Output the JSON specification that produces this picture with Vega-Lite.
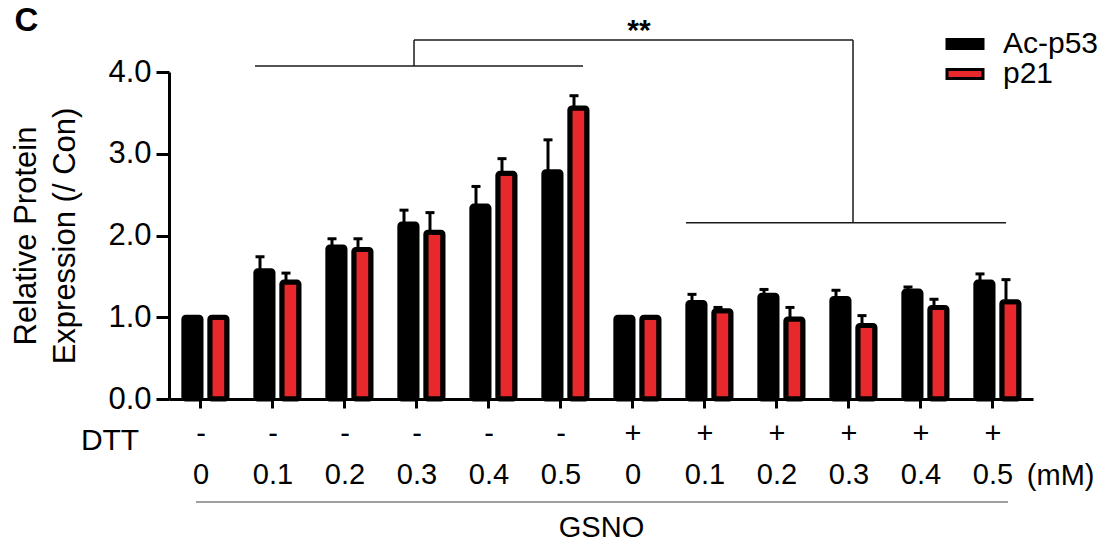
{
  "$schema": "https://vega.github.io/schema/vega-lite/v6.json",
  "width": 864,
  "height": 327,
  "autosize": "none",
  "padding": {"left": 169, "top": 72, "right": 73, "bottom": 145},
  "background": "white",
  "config": {
    "view": {"stroke": null},
    "font": "Liberation Sans",
    "axis": {"grid": false, "domainColor": "black", "tickColor": "black", "labelColor": "black", "titleColor": "black"}
  },
  "datasets": {
    "bars": [
      {"cond": "- 0", "series": "Ac-p53", "value": 1.0, "err": null},
      {"cond": "- 0", "series": "p21", "value": 1.0, "err": null},
      {"cond": "- 0.1", "series": "Ac-p53", "value": 1.57, "err": 1.74},
      {"cond": "- 0.1", "series": "p21", "value": 1.43, "err": 1.54},
      {"cond": "- 0.2", "series": "Ac-p53", "value": 1.86, "err": 1.96},
      {"cond": "- 0.2", "series": "p21", "value": 1.83, "err": 1.96},
      {"cond": "- 0.3", "series": "Ac-p53", "value": 2.14, "err": 2.31},
      {"cond": "- 0.3", "series": "p21", "value": 2.04, "err": 2.28},
      {"cond": "- 0.4", "series": "Ac-p53", "value": 2.36, "err": 2.6},
      {"cond": "- 0.4", "series": "p21", "value": 2.76, "err": 2.94},
      {"cond": "- 0.5", "series": "Ac-p53", "value": 2.78, "err": 3.17},
      {"cond": "- 0.5", "series": "p21", "value": 3.56, "err": 3.71},
      {"cond": "+ 0", "series": "Ac-p53", "value": 1.0, "err": null},
      {"cond": "+ 0", "series": "p21", "value": 1.0, "err": null},
      {"cond": "+ 0.1", "series": "Ac-p53", "value": 1.18, "err": 1.28},
      {"cond": "+ 0.1", "series": "p21", "value": 1.08, "err": 1.12},
      {"cond": "+ 0.2", "series": "Ac-p53", "value": 1.27, "err": 1.34},
      {"cond": "+ 0.2", "series": "p21", "value": 0.98, "err": 1.12},
      {"cond": "+ 0.3", "series": "Ac-p53", "value": 1.23, "err": 1.33},
      {"cond": "+ 0.3", "series": "p21", "value": 0.9, "err": 1.02},
      {"cond": "+ 0.4", "series": "Ac-p53", "value": 1.32, "err": 1.37},
      {"cond": "+ 0.4", "series": "p21", "value": 1.12, "err": 1.22},
      {"cond": "+ 0.5", "series": "Ac-p53", "value": 1.43, "err": 1.53},
      {"cond": "+ 0.5", "series": "p21", "value": 1.19, "err": 1.46}
    ]
  },
  "layer": [
    {
      "data": {"name": "bars"},
      "encoding": {
        "x": {
          "field": "cond", "type": "nominal", "sort": null,
          "scale": {"paddingInner": 0.278, "paddingOuter": 0.139, "align": 0.3},
          "axis": {
            "title": "GSNO", "titleFontSize": 29, "titleFontWeight": "normal", "titlePadding": 24,
            "labelExpr": "split(datum.label, ' ')", "labelAngle": 0,
            "labelFontSize": 29, "labelLineHeight": 41, "labelPadding": 11,
            "tickSize": 9, "tickWidth": 3, "domainWidth": 3
          }
        },
        "xOffset": {"field": "series", "type": "nominal", "sort": ["Ac-p53", "p21"], "scale": {"paddingInner": 0, "paddingOuter": 0}}
      },
      "layer": [
        {
          "mark": {"type": "bar", "width": {"band": 0.66}, "stroke": "black", "strokeWidth": 5, "cornerRadius": 2, "strokeJoin": "round"},
          "encoding": {
            "y": {
              "field": "value", "type": "quantitative", "scale": {"domain": [0, 4], "nice": false},
              "axis": {
                "title": ["Relative Protein", "Expression (/ Con)"], "values": [0, 1, 2, 3, 4], "format": ".1f",
                "labelFontSize": 31, "labelPadding": 5, "tickSize": 13, "tickWidth": 3, "domainWidth": 3,
                "titleFontSize": 31, "titleFontWeight": "normal", "titleLineHeight": 39, "titlePadding": 26
              }
            },
            "color": {
              "field": "series", "type": "nominal",
              "scale": {"domain": ["Ac-p53", "p21"], "range": ["#000000", "#e8282b"]},
              "legend": {
                "title": null, "orient": "none", "legendX": 781, "legendY": -43, "padding": 0,
                "symbolType": "M-1.8,-0.45H1.8V0.45H-1.8Z", "symbolSize": 400,
                "symbolStrokeColor": "black", "symbolStrokeWidth": 3, "symbolOpacity": 1,
                "labelFontSize": 30, "labelOffset": 23, "rowPadding": -1, "labelColor": "black"
              }
            }
          }
        },
        {
          "mark": {"type": "rule", "strokeWidth": 3, "color": "black"},
          "encoding": {"y": {"field": "value", "type": "quantitative"}, "y2": {"field": "err"}}
        },
        {
          "mark": {"type": "tick", "orient": "horizontal", "size": 9, "thickness": 3, "color": "black", "opacity": 1},
          "encoding": {"y": {"field": "err", "type": "quantitative"}}
        }
      ]
    },
    {
      "data": {"values": [{}]},
      "layer": [
        {"mark": {"type": "rule", "stroke": "#1a1a1a", "strokeWidth": 1.5},
         "encoding": {"x": {"datum": 0.75, "type": "quantitative", "scale": {"domain": [-0.444, 11.556], "nice": false, "zero": false}, "axis": null}, "x2": {"datum": 5.306},
                      "y": {"datum": 4.073, "type": "quantitative", "scale": {"domain": [0, 4], "nice": false}}}},
        {"mark": {"type": "rule", "stroke": "#1a1a1a", "strokeWidth": 1.5},
         "encoding": {"x": {"datum": 2.959, "type": "quantitative", "scale": {"domain": [-0.444, 11.556], "nice": false, "zero": false}, "axis": null},
                      "y": {"datum": 4.073, "type": "quantitative", "scale": {"domain": [0, 4], "nice": false}}, "y2": {"datum": 4.391}}},
        {"mark": {"type": "rule", "stroke": "#1a1a1a", "strokeWidth": 1.5},
         "encoding": {"x": {"datum": 2.959, "type": "quantitative", "scale": {"domain": [-0.444, 11.556], "nice": false, "zero": false}, "axis": null}, "x2": {"datum": 9.056},
                      "y": {"datum": 4.391, "type": "quantitative", "scale": {"domain": [0, 4], "nice": false}}}},
        {"mark": {"type": "rule", "stroke": "#1a1a1a", "strokeWidth": 1.5},
         "encoding": {"x": {"datum": 9.056, "type": "quantitative", "scale": {"domain": [-0.444, 11.556], "nice": false, "zero": false}, "axis": null},
                      "y": {"datum": 4.391, "type": "quantitative", "scale": {"domain": [0, 4], "nice": false}}, "y2": {"datum": 2.157}}},
        {"mark": {"type": "rule", "stroke": "#1a1a1a", "strokeWidth": 1.5},
         "encoding": {"x": {"datum": 6.736, "type": "quantitative", "scale": {"domain": [-0.444, 11.556], "nice": false, "zero": false}, "axis": null}, "x2": {"datum": 11.181},
                      "y": {"datum": 2.157, "type": "quantitative", "scale": {"domain": [0, 4], "nice": false}}}},
        {"mark": {"type": "rule", "stroke": "#808080", "strokeWidth": 1.5},
         "encoding": {"x": {"datum": -0.069, "type": "quantitative", "scale": {"domain": [-0.444, 11.556], "nice": false, "zero": false}, "axis": null}, "x2": {"datum": 11.209},
                      "y": {"datum": -1.26, "type": "quantitative", "scale": {"domain": [0, 4], "nice": false}}}},
        {"mark": {"type": "text", "text": "**", "fontSize": 30, "fontWeight": "bold", "align": "center", "baseline": "alphabetic", "color": "black"},
         "encoding": {"x": {"datum": 6.084, "type": "quantitative", "scale": {"domain": [-0.444, 11.556], "nice": false, "zero": false}, "axis": null},
                      "y": {"datum": 4.391, "type": "quantitative", "scale": {"domain": [0, 4], "nice": false}}}},
        {"mark": {"type": "text", "text": "DTT", "fontSize": 30, "align": "center", "baseline": "middle", "color": "black"},
         "encoding": {"x": {"datum": -1.263, "type": "quantitative", "scale": {"domain": [-0.444, 11.556], "nice": false, "zero": false}, "axis": null},
                      "y": {"datum": -0.514, "type": "quantitative", "scale": {"domain": [0, 4], "nice": false}}}},
        {"mark": {"type": "text", "text": "(mM)", "fontSize": 29, "align": "center", "baseline": "middle", "color": "black"},
         "encoding": {"x": {"datum": 11.94, "type": "quantitative", "scale": {"domain": [-0.444, 11.556], "nice": false, "zero": false}, "axis": null},
                      "y": {"datum": -0.942, "type": "quantitative", "scale": {"domain": [0, 4], "nice": false}}}},
        {"mark": {"type": "text", "text": "C", "fontSize": 33, "fontWeight": "bold", "align": "center", "baseline": "middle", "color": "black"},
         "encoding": {"x": {"datum": -2.423, "type": "quantitative", "scale": {"domain": [-0.444, 11.556], "nice": false, "zero": false}, "axis": null},
                      "y": {"datum": 4.618, "type": "quantitative", "scale": {"domain": [0, 4], "nice": false}}}}
      ]
    }
  ],
  "resolve": {"scale": {"x": "independent"}}
}
